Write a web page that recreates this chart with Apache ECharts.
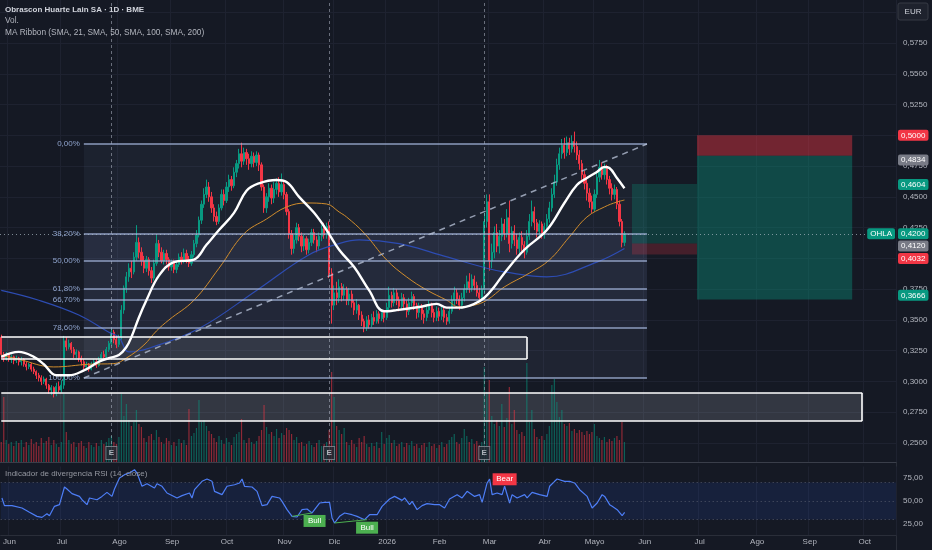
<!DOCTYPE html>
<html><head><meta charset="utf-8">
<script src="https://cdn.jsdelivr.net/npm/echarts@6/dist/echarts.min.js"></script>
<style>html,body{margin:0;padding:0;background:#151924;}#c{width:932px;height:550px;}</style>
</head><body><div id="c"></div><script>
// ---------- DATA ----------
const startDate = '2025-05-28';
const holidays = ['2025-12-25','2025-12-26','2026-01-01','2026-04-03','2026-04-06','2026-05-01'];
const barCount = 358;
const monthLabels = ['Jun','Jul','Ago','Sep','Oct','Nov','Dic','2026','Feb','Mar','Abr','Mayo','Jun','Jul','Ago','Sep','Oct'];
const priceTicks = [0.25, 0.6, 0.025];
const rsiTicks = [25, 50, 75];

// daily [open, close, low, high]
const ohlc = [
[.336,.322,.318,.338],[.322,.319,.316,.324],[.319,.322,.317,.324],[.322,.318,.316,.323],[.318,.320,.315,.322],
[.320,.317,.314,.321],[.317,.319,.315,.321],[.319,.316,.313,.320],[.316,.318,.313,.320],[.318,.314,.312,.319],
[.314,.312,.309,.316],[.312,.314,.310,.315],[.314,.310,.308,.315],[.310,.308,.306,.312],[.308,.305,.302,.309],
[.305,.303,.300,.307],[.303,.300,.297,.305],[.300,.302,.298,.304],[.302,.297,.294,.303],[.297,.293,.290,.298],
[.293,.295,.289,.297],[.295,.290,.287,.296],[.290,.296,.288,.299],[.296,.293,.291,.300],[.293,.297,.291,.301],
[.297,.333,.294,.337],[.333,.328,.325,.336],[.328,.331,.326,.334],[.331,.326,.323,.332],[.326,.322,.319,.328],
[.322,.324,.319,.326],[.324,.319,.316,.325],[.319,.316,.313,.321],[.316,.312,.310,.318],[.312,.314,.309,.316],
[.314,.310,.308,.315],[.310,.314,.309,.316],[.314,.316,.312,.318],[.316,.313,.311,.318],[.313,.318,.312,.320],
[.318,.322,.316,.324],[.322,.320,.318,.325],[.320,.326,.319,.328],[.326,.331,.324,.333],[.331,.340,.329,.343],
[.340,.334,.331,.342],[.334,.330,.327,.337],[.330,.336,.328,.338],[.336,.358,.334,.362],[.358,.376,.355,.378],
[.376,.385,.372,.389],[.385,.392,.381,.396],[.392,.389,.384,.398],[.389,.401,.387,.405],[.401,.413,.398,.427],
[.413,.405,.400,.417],[.405,.398,.394,.409],[.398,.392,.388,.402],[.392,.399,.389,.402],[.399,.390,.386,.401],
[.390,.384,.380,.393],[.384,.396,.382,.399],[.396,.412,.394,.419],[.412,.405,.401,.415],[.405,.398,.396,.409],
[.398,.404,.395,.407],[.404,.399,.395,.407],[.399,.393,.390,.401],[.393,.397,.390,.399],[.397,.391,.388,.399],
[.391,.395,.388,.397],[.395,.401,.393,.404],[.401,.398,.395,.405],[.398,.404,.396,.408],[.404,.399,.396,.407],
[.399,.396,.393,.402],[.396,.403,.394,.406],[.403,.412,.401,.415],[.412,.419,.409,.423],[.419,.431,.417,.434],
[.431,.444,.428,.447],[.444,.452,.441,.457],[.452,.458,.449,.464],[.458,.450,.446,.462],[.450,.441,.437,.454],
[.441,.434,.430,.444],[.434,.430,.427,.438],[.430,.441,.428,.444],[.441,.452,.439,.456],[.452,.447,.443,.456],
[.447,.458,.445,.462],[.458,.464,.454,.468],[.464,.459,.455,.467],[.459,.470,.457,.474],[.470,.477,.466,.480],
[.477,.485,.473,.489],[.485,.479,.474,.494],[.479,.486,.476,.490],[.486,.481,.476,.489],[.481,.477,.472,.485],
[.477,.483,.474,.487],[.483,.478,.474,.486],[.478,.484,.475,.487],[.484,.476,.471,.486],[.476,.458,.455,.478],
[.458,.441,.437,.460],[.441,.450,.437,.453],[.450,.457,.446,.461],[.457,.449,.444,.460],[.449,.456,.445,.462],
[.456,.461,.452,.465],[.461,.454,.450,.466],[.454,.460,.451,.469],[.460,.452,.448,.463],[.452,.438,.435,.454],
[.438,.420,.416,.440],[.420,.408,.403,.423],[.408,.415,.404,.419],[.415,.425,.412,.429],[.425,.418,.414,.428],
[.418,.410,.405,.421],[.410,.416,.406,.419],[.416,.407,.403,.418],[.407,.413,.404,.416],[.413,.421,.410,.424],
[.421,.415,.412,.424],[.415,.410,.405,.418],[.410,.418,.407,.421],[.418,.424,.414,.427],[.424,.419,.416,.429],
[.419,.426,.416,.429],[.426,.388,.384,.430],[.388,.362,.347,.392],[.362,.372,.358,.378],[.372,.368,.362,.381],
[.368,.377,.364,.383],[.377,.370,.365,.380],[.370,.375,.366,.379],[.375,.366,.362,.377],[.366,.371,.362,.376],
[.371,.364,.360,.374],[.364,.358,.354,.366],[.358,.362,.355,.367],[.362,.354,.350,.363],[.354,.349,.345,.357],
[.349,.344,.340,.351],[.344,.350,.341,.353],[.350,.346,.343,.354],[.346,.352,.344,.355],[.352,.349,.346,.357],
[.349,.355,.347,.358],[.355,.351,.347,.357],[.351,.356,.349,.359],[.356,.352,.348,.358],[.352,.360,.350,.364],
[.360,.370,.358,.377],[.370,.364,.360,.373],[.364,.372,.361,.376],[.372,.366,.362,.375],[.366,.361,.357,.369],
[.361,.368,.358,.372],[.368,.363,.359,.371],[.363,.357,.352,.366],[.357,.364,.354,.368],[.364,.369,.361,.373],
[.369,.362,.358,.371],[.362,.356,.351,.364],[.356,.361,.352,.364],[.361,.355,.350,.363],[.355,.352,.347,.358],
[.352,.358,.349,.362],[.358,.362,.355,.366],[.362,.356,.352,.364],[.356,.352,.348,.359],[.352,.357,.349,.361],
[.357,.353,.349,.360],[.353,.358,.350,.362],[.358,.352,.348,.360],[.352,.349,.346,.355],[.349,.357,.347,.360],
[.357,.366,.355,.370],[.366,.372,.362,.377],[.372,.367,.363,.375],[.367,.362,.358,.370],[.362,.368,.359,.372],
[.368,.375,.365,.379],[.375,.381,.372,.386],[.381,.376,.372,.388],[.376,.383,.373,.387],[.383,.378,.374,.386],
[.378,.372,.369,.381],[.372,.368,.366,.376],[.368,.375,.366,.378],[.375,.430,.372,.437],[.430,.446,.425,.452],
[.446,.398,.390,.452],[.398,.405,.392,.412],[.405,.421,.400,.426],[.421,.410,.405,.428],[.410,.418,.404,.423],
[.418,.428,.414,.433],[.428,.420,.415,.432],[.420,.433,.417,.440],[.433,.412,.405,.447],[.412,.422,.408,.426],
[.422,.415,.410,.427],[.415,.408,.403,.420],[.408,.417,.404,.421],[.417,.411,.406,.422],[.411,.405,.400,.414],
[.405,.418,.403,.423],[.418,.430,.415,.436],[.430,.438,.426,.447],[.438,.429,.423,.442],[.429,.422,.417,.432],
[.422,.428,.418,.431],[.428,.420,.416,.430],[.420,.426,.416,.429],[.426,.432,.422,.436],[.432,.441,.429,.446],
[.441,.452,.438,.457],[.452,.462,.449,.468],[.462,.476,.459,.481],[.476,.485,.472,.490],[.485,.492,.481,.497],
[.492,.486,.481,.498],[.486,.494,.483,.499],[.494,.489,.484,.498],[.489,.495,.486,.500],[.495,.491,.486,.503],
[.491,.484,.480,.495],[.484,.477,.472,.488],[.477,.468,.463,.480],[.468,.461,.456,.471],[.461,.453,.447,.465],
[.453,.446,.441,.457],[.446,.440,.437,.451],[.440,.452,.438,.456],[.452,.466,.449,.471],[.466,.474,.462,.480],
[.474,.468,.464,.478],[.468,.473,.464,.477],[.473,.464,.460,.476],[.464,.457,.452,.467],[.457,.452,.447,.461],
[.452,.456,.448,.460],[.456,.444,.440,.458],[.444,.430,.426,.447],[.430,.413,.409,.432],[.413,.420,.410,.422]
];

// volume, millions of shares
const volume = [
2.0,6.5,2.2,1.8,2.0,1.6,2.1,1.9,2.2,1.5,2.0,1.7,2.3,1.8,2.0,1.6,2.4,1.9,2.1,2.5,
1.7,2.2,1.8,1.5,2.0,6.8,3.0,2.2,1.8,2.0,1.5,1.9,2.1,1.6,1.4,2.0,1.7,1.5,1.9,1.6,
2.2,1.8,2.0,2.4,2.6,2.0,1.8,2.5,6.8,4.6,5.8,4.2,3.6,4.0,5.2,3.8,3.5,2.4,2.0,2.6,
2.8,2.2,3.2,2.5,2.0,1.8,2.4,2.1,1.7,2.0,1.6,2.3,1.9,2.2,1.7,5.3,2.6,2.9,3.4,6.2,
4.0,4.2,3.6,3.1,2.8,2.4,2.0,2.6,2.2,1.8,2.4,2.0,1.7,2.5,2.8,3.0,4.3,2.2,1.9,2.4,
2.0,1.8,2.1,2.6,3.2,5.7,3.5,2.8,3.0,2.6,3.3,2.4,2.9,2.7,3.4,3.2,2.8,2.2,2.5,1.9,
2.0,1.6,1.8,2.1,1.7,1.5,1.9,2.2,1.6,1.8,2.0,3.2,9.0,6.5,3.6,3.2,2.8,3.4,2.0,1.7,
2.2,1.8,1.5,2.4,2.0,2.6,1.8,1.5,1.9,1.6,2.0,1.4,3.0,1.8,2.4,2.7,1.9,2.2,1.6,1.8,
2.0,1.5,1.9,1.7,2.1,1.6,1.8,1.4,1.7,1.9,1.5,2.0,1.6,1.8,1.4,1.7,2.0,1.5,1.8,2.2,
2.5,2.8,2.0,1.8,2.4,3.3,2.6,2.0,2.3,1.8,2.1,1.7,2.0,9.5,7.0,8.2,4.6,3.8,4.2,3.6,
5.8,3.5,4.4,7.5,3.8,5.2,3.2,2.8,3.0,2.6,9.9,4.0,5.2,3.3,2.5,2.3,2.6,2.2,2.8,3.6,
7.7,8.3,6.0,4.5,5.2,3.8,3.6,3.9,3.1,3.3,2.9,3.2,3.0,2.7,3.1,2.8,3.0,3.8,2.6,2.4,
2.2,2.5,2.0,2.3,2.1,2.4,2.6,2.2,4.0,2.0
];

// moving averages: [bar index, value]
const sma21 = [[0,.320],[7,.324],[13,.320],[17,.314],[22,.305],[27,.305],[33,.309],[39,.316],[43,.319],[47,.3215],[50,.328],[52,.336],[55,.352],[58,.366],[63,.386],[69,.397],[77,.399],[82,.411],[87,.423],[93,.437],[98,.455],[103,.461],[110,.4637],[114,.462],[119,.450],[125,.437],[130,.423],[135,.407],[141,.393],[147,.374],[153,.357],[158,.358],[167,.3605],[174,.363],[178,.360],[183,.360],[189,.363],[193,.368],[197,.377],[201,.388],[209,.407],[218,.423],[225,.445],[230,.4596],[234,.4653],[238,.4702],[241,.4743],[243,.4734],[246,.4653],[249,.457]];
const sma50 = [[0,.3215],[7,.318],[21,.3118],[35,.314],[45,.3145],[50,.319],[57,.3296],[62,.341],[67,.350],[77,.366],[87,.392],[97,.420],[106,.432],[114,.4418],[122,.445],[130,.4442],[135,.4377],[138,.4336],[145,.4206],[154,.3987],[162,.3849],[170,.3743],[178,.366],[183,.3605],[189,.362],[194,.366],[201,.3768],[211,.388],[219,.3987],[227,.4174],[234,.4336],[241,.4418],[246,.4458],[249,.4474]];
const sma100 = [[0,.374],[15,.366],[31,.354],[43,.340],[47,.336],[51,.324],[59,.327],[79,.343],[102,.374],[123,.403],[135,.412],[143,.415],[159,.412],[175,.403],[194,.392],[201,.389],[218,.385],[238,.397],[249,.408]];

// RSI(14): [bar index, value]
const rsi = [[0,53.3],[1,45],[4,45],[8,42.4],[11,37.7],[14,33.3],[16,32.2],[18,36.2],[19,34],[21,44.2],[23,46],[25,65.2],[26,63],[28,58],[31,55],[32,51.4],[34,46],[35,53.3],[38,51.4],[40,55],[42,59.4],[44,55],[45,63],[47,75],[49,78.6],[51,80.4],[53,84],[54,80.4],[56,66],[58,68.8],[61,64.1],[62,68.8],[64,66],[66,58.7],[70,53.3],[72,55.8],[75,58.7],[76,53.3],[77,62.3],[80,71.4],[82,73.9],[84,71.4],[85,60.5],[88,56.9],[90,66],[93,67.7],[95,69.6],[96,73.9],[97,66],[100,65.2],[102,60.5],[104,45],[106,46],[108,55],[111,53.3],[112,49.6],[114,40.6],[116,33.3],[118,32.6],[120,40.6],[122,41.3],[124,37],[125,40.6],[127,47.8],[129,48.5],[131,48.5],[132,31.5],[133,26.1],[135,33.3],[137,37],[140,35.1],[142,33.3],[145,29.7],[147,35.1],[150,35.1],[152,44.2],[155,52.2],[157,55],[160,50.7],[161,53.3],[163,46],[164,49.6],[166,40.6],[168,45],[170,47.1],[173,46],[175,46],[177,42.4],[179,52.2],[182,56.9],[184,53.3],[186,60.5],[187,58.7],[189,55],[191,56.9],[192,48.5],[194,69.6],[195,73.9],[196,56.9],[198,58.7],[200,56.9],[201,66],[203,47.8],[204,56.9],[206,53.3],[209,56.9],[210,53.3],[212,59.4],[215,56.9],[218,55],[219,66],[221,71.4],[222,73.9],[225,71.4],[227,71.4],[229,69.6],[231,62.3],[234,55],[236,42.4],[238,47.8],[240,56.9],[241,55],[243,46],[244,44.2],[246,40.6],[248,34],[249,37.7]];
const bullDivs = [[[116,33.3],[124,37]],[[133,26.1],[146,29.7]]];
const bullTags = [[125,37],[146,29.7]];
const bearTags = [[201,66]];

const earnings = ['2025-07-29','2025-11-27','2026-02-26'];

// drawings
const fibLow = 0.3028, fibHigh = 0.4929, fibFrom = 33, fibTo = 258;
const fibRatios = [0, 0.382, 0.5, 0.618, 0.667, 0.786, 1];
const fibNames = ['0,00%','38,20%','50,00%','61,80%','66,70%','78,60%','100,00%'];
const zones = [[0,210,0.3361,0.3183],[0,344,0.2906,0.2679]];
const longPos = {from:252, to:278, target:0.4604, entry:0.4120, stop:0.4032};
const shortPos = {from:278, to:340, stop:0.5000, entry:0.4834, target:0.3666};
const lastPrice = 0.4200;
const ticker = 'OHLA';

// ---------- BUILD ----------
const cats = [];
(function(){
  const d = new Date(startDate + 'T00:00:00Z');
  while (cats.length < barCount) {
    const wd = d.getUTCDay(), s = d.toISOString().slice(0,10);
    if (wd !== 0 && wd !== 6 && holidays.indexOf(s) < 0) cats.push(s);
    d.setUTCDate(d.getUTCDate() + 1);
  }
})();
const isMonthStart = i => i > 0 && cats[i].slice(0,7) !== cats[i-1].slice(0,7);
const monthName = i => { const y=+cats[i].slice(0,4), m=+cats[i].slice(5,7)-1; return monthLabels[(y-2025)*12+m-5] || ''; };
const fmt = (v, d) => v.toFixed(d).replace('.', ',');

const UP='#089981', DN='#f23645', GREY='#787b86', TXT='#b2b5be', GRID='#1e2230';
const FONT='Liberation Sans, Arial, sans-serif';
const CLEAR='rgba(0,0,0,0)';

const fibLevels = fibRatios.map(r => fibHigh - r*(fibHigh-fibLow));
const fibAlpha = [0.07, 0.17, 0.14, 0.14, 0.12, 0.09];
const fibAreas = [];
for (let k=0;k<fibLevels.length-1;k++) fibAreas.push([{coord:[fibFrom,fibLevels[k]], itemStyle:{color:'rgba(130,150,205,'+fibAlpha[k]+')'}},{coord:[fibTo,fibLevels[k+1]]}]);
const fibLines = fibLevels.map((v,k)=>[{coord:[fibFrom,v], label:{show:true,position:'start',distance:4,formatter:fibNames[k],color:'#8fa3cc',fontSize:8,fontFamily:FONT}},{coord:[fibTo,v]}]);
const trend = [[{coord:[fibFrom,fibLow], lineStyle:{type:[6,5],color:'rgba(190,200,222,0.75)',width:1.5}, label:{show:false}},{coord:[fibTo,fibHigh]}]];

const zoneAreas = zones.map((z,k)=>[{coord:[z[0],z[2]], itemStyle:{color: k? 'rgba(200,205,220,0.17)':'rgba(200,205,220,0.12)'}},{coord:[z[1],z[3]]}]);
const wl = {color:'#ffffff', width:1.6, type:'solid'};
const zoneLines = [];
zones.forEach(z=>{
  zoneLines.push([{coord:[z[0],z[2]],lineStyle:wl,label:{show:false}},{coord:[z[1],z[2]]}]);
  zoneLines.push([{coord:[z[0],z[3]],lineStyle:wl,label:{show:false}},{coord:[z[1],z[3]]}]);
  zoneLines.push([{coord:[z[1],z[2]],lineStyle:wl,label:{show:false}},{coord:[z[1],z[3]]}]);
});

const posAreas = [
  [{coord:[longPos.from,longPos.target],itemStyle:{color:'rgba(8,153,129,0.26)'}},{coord:[longPos.to,longPos.entry]}],
  [{coord:[longPos.from,longPos.entry],itemStyle:{color:'rgba(242,54,69,0.22)'}},{coord:[longPos.to,longPos.stop]}],
  [{coord:[shortPos.from,shortPos.stop],itemStyle:{color:'rgba(242,54,69,0.42)'}},{coord:[shortPos.to,shortPos.entry]}],
  [{coord:[shortPos.from,shortPos.entry],itemStyle:{color:'rgba(8,153,129,0.38)'}},{coord:[shortPos.to,shortPos.target]}]
];

const tagLabel = (text,c,pos)=>({show:true,position:pos,distance:pos==='end'?2:1,formatter:text,color:'#fff',backgroundColor:c,padding:[2,3,1,3],borderRadius:2,fontSize:8,fontFamily:FONT});
const tag = (v,c)=>({yAxis:v, lineStyle:{color:CLEAR,width:0}, label:tagLabel(fmt(v,4),c,'end')});
const tags = [tag(shortPos.stop,DN),tag(shortPos.entry,GREY),tag(longPos.target,UP),tag(longPos.entry,GREY),tag(longPos.stop,DN),tag(shortPos.target,UP)];
tags.push({yAxis:lastPrice, lineStyle:{type:[1,3],color:'rgba(170,185,195,0.7)',width:1}, label:tagLabel(fmt(lastPrice,4),UP,'end')});
tags.push({yAxis:lastPrice, lineStyle:{color:CLEAR,width:0}, label:tagLabel(ticker,UP,'insideEnd')});

const chart = echarts.init(document.getElementById('c'));
chart.setOption({
  animation:false,
  backgroundColor:'#151924',
  textStyle:{fontFamily:FONT},
  title:[
    {text:'Obrascon Huarte Lain SA · 1D · BME',left:0,top:1,textStyle:{fontSize:8,fontWeight:600,color:'#d1d4dc',fontFamily:FONT}},
    {text:'Vol.',left:0,top:12,textStyle:{fontSize:8.3,fontWeight:'normal',color:TXT,fontFamily:FONT}},
    {text:'MA Ribbon (SMA, 21, SMA, 50, SMA, 100, SMA, 200)',left:0,top:24,textStyle:{fontSize:8.3,fontWeight:'normal',color:TXT,fontFamily:FONT}},
    {text:'Indicador de divergencia RSI (14, close)',left:0,top:465,textStyle:{fontSize:8,fontWeight:'normal',color:'#9598a1',fontFamily:FONT}}
  ],
  grid:[
    {left:0,width:896,top:12.23,height:430.77},
    {left:0,width:896,top:0,height:462},
    {left:0,width:896,top:466.5,height:69}
  ],
  xAxis:[
    {type:'category',gridIndex:0,data:cats,show:false},
    {type:'category',gridIndex:1,data:cats,axisLine:{show:true,lineStyle:{color:'#3a3e4a'}},axisTick:{show:false},axisLabel:{show:false},
     splitLine:{show:true,interval:isMonthStart,lineStyle:{color:GRID}}},
    {type:'category',gridIndex:2,data:cats,axisLine:{show:true,lineStyle:{color:'#2a2e39'}},axisTick:{show:false},
     splitLine:{show:true,interval:isMonthStart,lineStyle:{color:GRID}},
     axisLabel:{interval:isMonthStart,formatter:(v,i)=>monthName(i),color:TXT,fontSize:8,margin:2,fontFamily:FONT}}
  ],
  yAxis:[
    {type:'value',gridIndex:0,position:'right',min:priceTicks[0],max:priceTicks[1],interval:priceTicks[2],
     axisLine:{show:false},axisTick:{show:false},splitLine:{show:true,lineStyle:{color:GRID}},
     axisLabel:{color:TXT,fontSize:8,margin:7,fontFamily:FONT,formatter:v=> v>0.59?'':fmt(v,4)}},
    {type:'value',gridIndex:1,min:0,max:46.2,show:false},
    {type:'value',gridIndex:2,position:'right',min:12.5,max:87.5,interval:12.5,
     axisLine:{show:false},axisTick:{show:false},splitLine:{show:false},
     axisLabel:{color:TXT,fontSize:8,margin:7,fontFamily:FONT,formatter:v=> rsiTicks.indexOf(v)>=0?fmt(v,2):''}}
  ],
  graphic:[
    {type:'line',shape:{x1:896.5,y1:0,x2:896.5,y2:550},style:{stroke:'#2a2e39',lineWidth:1},silent:true},
    {type:'rect',shape:{x:898,y:3,width:30,height:17,r:2},style:{fill:'#1e222d',stroke:'#363a45',lineWidth:1},silent:true},
    {type:'text',x:913,y:11.5,style:{text:'EUR',fill:'#d1d4dc',fontSize:8,fontFamily:FONT,align:'center',verticalAlign:'middle'},silent:true}
  ],
  series:[
    {type:'line',xAxisIndex:1,yAxisIndex:1,data:[],z:1,silent:true,
     markLine:{silent:true,symbol:'none',label:{show:false},lineStyle:{type:[3,3],color:'rgba(190,195,210,0.5)',width:1},data:earnings.map(d=>({xAxis:d}))}},
    {type:'bar',xAxisIndex:1,yAxisIndex:1,data:volume,barWidth:1.2,z:2,silent:true,
     itemStyle:{color:p=> ohlc[p.dataIndex][1]>=ohlc[p.dataIndex][0] ? 'rgba(8,153,129,0.55)' : 'rgba(242,54,69,0.55)'}},
    {type:'scatter',xAxisIndex:1,yAxisIndex:1,data:earnings.map(d=>[d,0.9]),symbol:'rect',symbolSize:[11,13],z:6,silent:true,
     itemStyle:{color:'#262a35',borderColor:'#8a8e99',borderWidth:1},
     label:{show:true,position:'inside',formatter:'E',color:'#d1d4dc',fontSize:8,fontWeight:'bold',fontFamily:FONT}},
    {type:'line',xAxisIndex:0,yAxisIndex:0,data:[],z:1,silent:true,
     markArea:{silent:true,data:fibAreas.concat(zoneAreas).concat(posAreas)},
     markLine:{silent:true,symbol:'none',lineStyle:{color:'rgba(160,178,215,0.85)',width:1.5,type:'solid'},data:fibLines.concat(trend).concat(zoneLines)}},
    {type:'candlestick',xAxisIndex:0,yAxisIndex:0,data:ohlc,barWidth:1.7,z:3,silent:true,
     itemStyle:{color:UP,color0:DN,borderColor:UP,borderColor0:DN,borderWidth:1}},
    {type:'line',xAxisIndex:0,yAxisIndex:0,data:sma100,smooth:0.4,symbol:'none',z:4,silent:true,lineStyle:{color:'#2d4cb2',width:1.2}},
    {type:'line',xAxisIndex:0,yAxisIndex:0,data:sma50,smooth:0.4,symbol:'none',z:4,silent:true,lineStyle:{color:'#d18d2c',width:1}},
    {type:'line',xAxisIndex:0,yAxisIndex:0,data:sma21,smooth:0.4,symbol:'none',z:5,silent:true,lineStyle:{color:'#ffffff',width:2.4}},
    {type:'line',xAxisIndex:0,yAxisIndex:0,data:[],z:7,silent:true,
     markLine:{silent:true,symbol:'none',data:tags}},
    {type:'line',xAxisIndex:2,yAxisIndex:2,data:rsi,symbol:'none',z:4,silent:true,lineStyle:{color:'#4d7ef7',width:1.2},
     markArea:{silent:true,data:[[{yAxis:70,itemStyle:{color:'rgba(41,98,255,0.11)'}},{yAxis:30}]]},
     markLine:{silent:true,symbol:'none',label:{show:false},
       data:[
         {yAxis:70,lineStyle:{type:[1,3],color:'rgba(120,123,134,0.6)',width:1}},
         {yAxis:50,lineStyle:{type:[1,3],color:'rgba(120,123,134,0.6)',width:1}},
         {yAxis:30,lineStyle:{type:[1,3],color:'rgba(120,123,134,0.6)',width:1}}
       ].concat(bullDivs.map(s=>[{coord:s[0],lineStyle:{type:'solid',color:'#4caf50',width:1}},{coord:s[1]}]))},
     markPoint:{silent:true,symbol:'rect',
       data:bullTags.map(t=>({coord:t,symbolSize:[22,12],symbolOffset:[0,8],itemStyle:{color:'#4caf50'},
              label:{show:true,formatter:'Bull',color:'#fff',fontSize:8,fontFamily:FONT}}))
         .concat(bearTags.map(t=>({coord:t,symbolSize:[24,12],symbolOffset:[0,-7],itemStyle:{color:'#f23645'},
              label:{show:true,formatter:'Bear',color:'#fff',fontSize:8,fontFamily:FONT}})))}}
  ]
});
</script></body></html>
